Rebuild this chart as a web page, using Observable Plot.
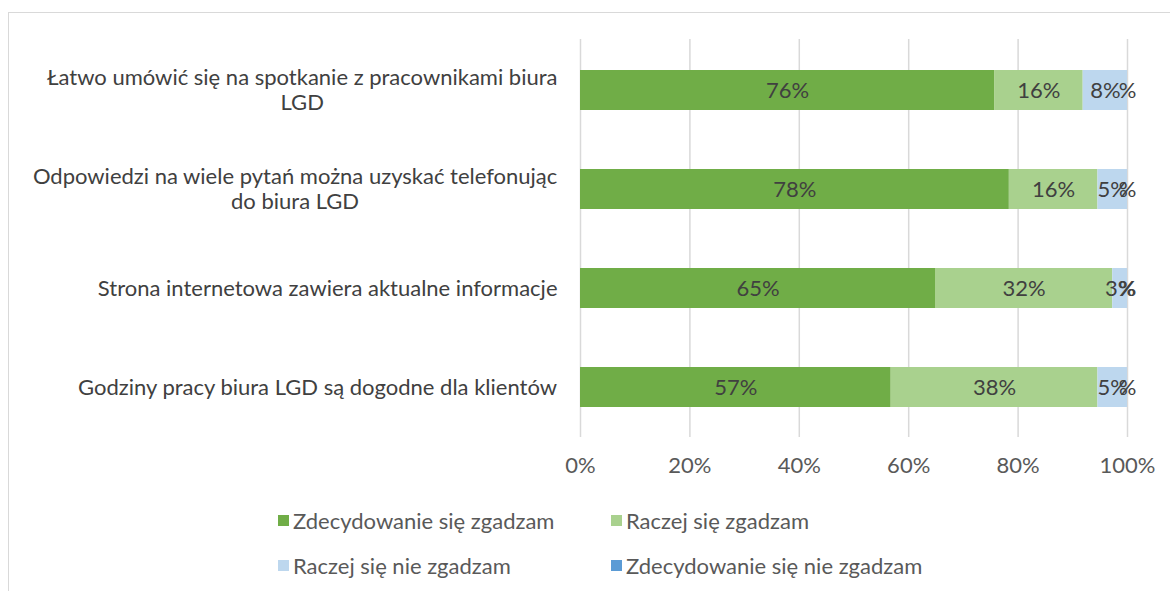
<!DOCTYPE html>
<html>
<head>
<meta charset="utf-8">
<script src="https://cdn.jsdelivr.net/npm/d3@7"></script>
<script src="https://cdn.jsdelivr.net/npm/@observablehq/plot@0.6"></script>
<style>
  html, body { margin: 0; padding: 0; background: #fff; overflow: hidden; }
  #wrap { position: relative; width: 1170px; height: 591px; overflow: hidden; font-family: Lato, "Open Sans", sans-serif; }
  #frame { position: absolute; left: 8px; top: 12px; width: 1300px; height: 800px; border: 1.5px solid #d9d9d9; box-sizing: border-box; }
  #chart { position: absolute; left: 0; top: 0; }
  .lg { position: absolute; display: flex; align-items: center; font-size: 22px; color: #595959; white-space: nowrap; }
  .lg i { display: inline-block; width: 11px; height: 11px; margin-right: 4px; }
</style>
</head>
<body>
<div id="wrap">
  <div id="frame"></div>
  <div id="chart"></div>
  <div id="legend"></div>
</div>
<script>
const categories = [
  "Łatwo umówić się na spotkanie z pracownikami biura\nLGD",
  "Odpowiedzi na wiele pytań można uzyskać telefonując\ndo biura LGD",
  "Strona internetowa zawiera aktualne informacje",
  "Godziny pracy biura LGD są dogodne dla klientów"
];
const seriesNames = [
  "Zdecydowanie się zgadzam",
  "Raczej się zgadzam",
  "Raczej się nie zgadzam",
  "Zdecydowanie się nie zgadzam"
];
const seriesColors = ["#70AD47", "#A9D18E", "#BDD7EE", "#5B9BD5"];
const zdecydowanieTak = [75.7, 78.4, 64.9, 56.8];
const raczejTak = [16.2, 16.2, 32.4, 37.8];
const raczejNie = [8.1, 5.4, 2.7, 5.4];
const zdecydowanieNie = [0, 0, 0, 0];
const xTicks = [0, 20, 40, 60, 80, 100];

const seriesValues = [zdecydowanieTak, raczejTak, raczejNie, zdecydowanieNie];
const rows = [];
seriesNames.forEach((s, si) => {
  categories.forEach((c, ci) => {
    rows.push({cat: c, series: s, order: si, value: seriesValues[si][ci]});
  });
});

const FONT = "Lato, 'Open Sans', sans-serif";
const FS = 22;
const ctx = document.createElement("canvas").getContext("2d");
ctx.font = `${FS}px Lato`;
const blockWidth = c => Math.max(...c.split("\n").map(l => ctx.measureText(l).width));

const labelFmt = v => (Math.round(v) === 0 ? "" : Math.round(v)) + "%";

const catMarks = categories.map(c =>
  Plot.text([c], {
    y: d => d, text: d => d, frameAnchor: "left",
    textAnchor: "middle", lineAnchor: "middle", lineHeight: 1.15,
    dx: -(23 + blockWidth(c) / 2), dy: -1,
    fill: "#404040", fontSize: FS
  })
);

const chart = Plot.plot({
  width: 1170,
  height: 480,
  marginLeft: 580,
  marginRight: 43,
  marginTop: 39,
  marginBottom: 43,
  style: {fontFamily: FONT, fontSize: FS + "px", background: "transparent", overflow: "visible"},
  x: {domain: [0, 100], ticks: xTicks, tickFormat: d => d + "%", tickSize: 0, tickPadding: 20, label: null},
  y: {domain: categories, paddingInner: 0.6, paddingOuter: 0.3, axis: null},
  color: {domain: seriesNames, range: seriesColors},
  marks: [
    Plot.ruleX(xTicks, {stroke: "#d9d9d9", strokeWidth: 1.5}),
    Plot.barX(rows, Plot.stackX({x: "value", y: "cat", fill: "series", order: "order"})),
    Plot.text(rows, Plot.stackX({x: "value", y: "cat", order: "order", text: d => labelFmt(d.value), fill: "#404040", fontSize: FS})),
    Plot.axisX({ticks: xTicks, tickFormat: d => d + "%", tickSize: 0, tickPadding: 20, color: "#595959", fontSize: FS, label: null}),
    ...catMarks
  ]
});
document.getElementById("chart").appendChild(chart);

const legendPos = [[278, 520], [611, 520], [278, 565], [611, 565]];
const lg = document.getElementById("legend");
seriesNames.forEach((s, i) => {
  const el = document.createElement("div");
  el.className = "lg";
  el.style.left = legendPos[i][0] + "px";
  el.style.top = (legendPos[i][1] - 14) + "px";
  el.style.height = "28px";
  el.innerHTML = `<i style="background:${seriesColors[i]}"></i><span>${s}</span>`;
  lg.appendChild(el);
});
</script>
</body>
</html>
